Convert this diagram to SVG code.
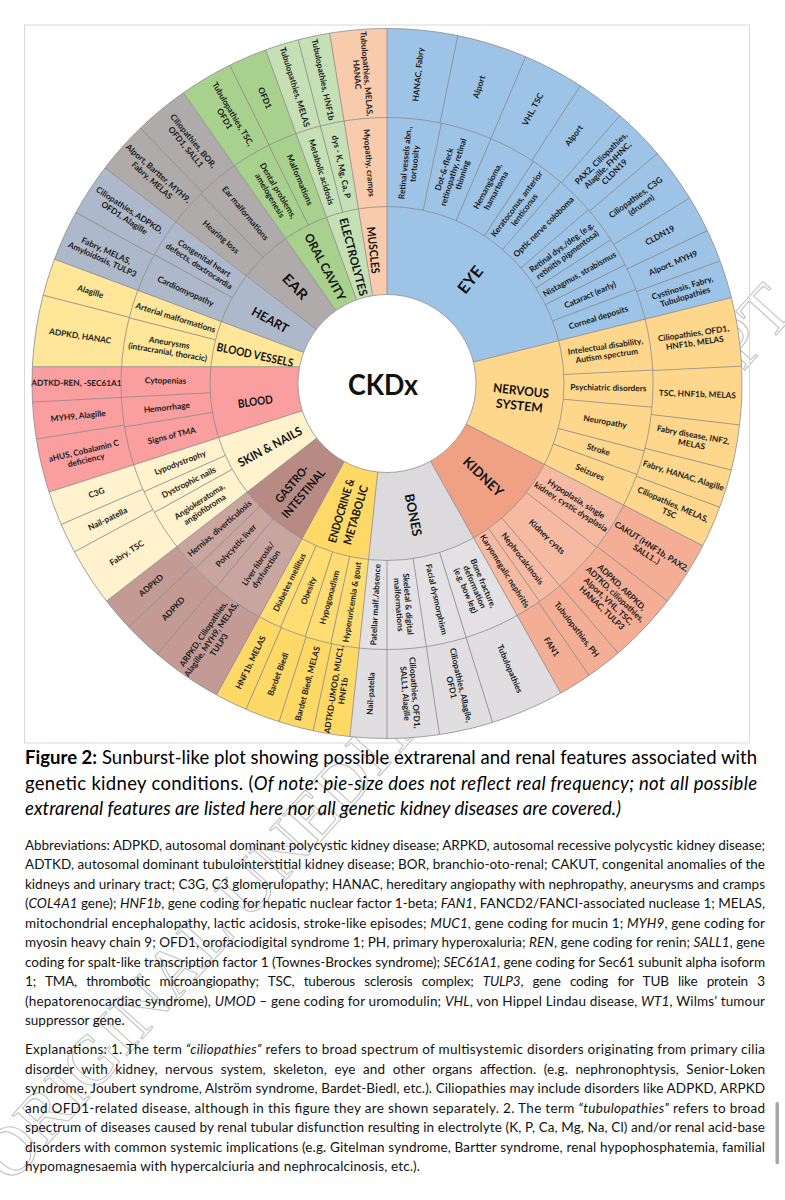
<svg xmlns="http://www.w3.org/2000/svg" width="785" height="1200" viewBox="0 0 785 1200">
<defs>
<style>
.s1{fill:none;stroke-width:88}
.s2{fill:none;stroke-width:89}
.sa{fill:none;stroke-width:266}
.t{font-family:Lato,'Liberation Sans',sans-serif;font-weight:700;font-size:8.3px;fill:#1a1a1a;text-anchor:middle}
.c{font-family:Lato,'Liberation Sans',sans-serif;font-weight:700;fill:#111;text-anchor:middle}
.p{font-family:Lato,'Liberation Sans',sans-serif;font-size:13.5px;fill:#111}
.cap{font-family:Lato,'Liberation Sans',sans-serif;font-size:18.5px;fill:#000}
.i{font-style:italic}
.b{font-weight:700}
.rg{fill:none;stroke:#8c8c8c;stroke-width:0.8}
</style>
<line id="m" stroke="#8c8c8c" stroke-width="0.8" y1="-177" y2="-266"/>
<line id="o" stroke="#8c8c8c" stroke-width="0.8" y1="-266" y2="-355"/>
<line id="k" stroke="#8c8c8c" stroke-width="0.8" y1="-89" y2="-355"/>
</defs>
<rect width="785" height="1200" fill="#fff"/>
<g id="watermark">
<text transform="translate(11 1185) rotate(-48)" font-family="'Liberation Serif',serif" font-size="70" fill="none" stroke="#c2c2c2" stroke-width="1.1">ORIGINAL UNEDITED MANUSCRIPT</text>
</g>
<rect id="frame" x="24.5" y="25" width="725" height="718" fill="none" stroke="#d9d9d9" stroke-width="1"/>
<g id="sunburst" transform="translate(387 383.5)">
<g id="eye">
<circle r="222" class="sa" stroke="#9DC3E6" pathLength="360" stroke-dasharray="76 360" transform="rotate(-90)"/>
<use href="#m" transform="rotate(11.8)"/><use href="#m" transform="rotate(23)"/><use href="#m" transform="rotate(33.4)"/><use href="#m" transform="rotate(40.8)"/><use href="#m" transform="rotate(49.2)"/><use href="#m" transform="rotate(57.3)"/><use href="#m" transform="rotate(63.5)"/><use href="#m" transform="rotate(69.3)"/>
<use href="#o" transform="rotate(11.5)"/><use href="#o" transform="rotate(23)"/><use href="#o" transform="rotate(33)"/><use href="#o" transform="rotate(41)"/><use href="#o" transform="rotate(49.6)"/><use href="#o" transform="rotate(58.5)"/><use href="#o" transform="rotate(64.5)"/><use href="#o" transform="rotate(69.8)"/>
<text class="c" font-size="16" y="5.6" textLength="30" lengthAdjust="spacingAndGlyphs" transform="rotate(38.7) translate(0,-133) rotate(-90)">EYE</text>
<text class="t" transform="rotate(5.9) translate(0,-221.5) rotate(-90)"><tspan x="0" dy="-1.85">Retinal vessels abn.,</tspan><tspan x="0" dy="9.5">tortuosity</tspan></text>
<text class="t" transform="rotate(17.4) translate(0,-221.5) rotate(-90)"><tspan x="0" dy="-6.6">Dot-&amp;-fleck</tspan><tspan x="0" dy="9.5">retinopathy, retinal</tspan><tspan x="0" dy="9.5">thinning</tspan></text>
<text class="t" transform="rotate(28.2) translate(0,-221.5) rotate(-90)"><tspan x="0" dy="-1.85">Hemangioma,</tspan><tspan x="0" dy="9.5">hamartoma</tspan></text>
<text class="t" transform="rotate(37.1) translate(0,-221.5) rotate(-90)"><tspan x="0" dy="-1.85">Keratoconus, anterior</tspan><tspan x="0" dy="9.5">lenticonus</tspan></text>
<text class="t" y="2.9" transform="rotate(45) translate(0,-221.5) rotate(-90)">Optic nerve coloboma</text>
<text class="t" transform="rotate(53.25) translate(0,-221.5) rotate(-90)"><tspan x="0" dy="-1.85">Retinal dys./deg. (e.g.</tspan><tspan x="0" dy="9.5">retinitis pigmentosa)</tspan></text>
<text class="t" y="2.9" transform="rotate(60.4) translate(0,-221.5) rotate(-90)">Nistagmus, strabismus</text>
<text class="t" y="2.9" transform="rotate(66.4) translate(0,-221.5) rotate(-90)">Cataract (early)</text>
<text class="t" y="2.9" transform="rotate(72.65) translate(0,-221.5) rotate(-90)">Corneal deposits</text>
<text class="t" y="2.9" transform="rotate(5.75) translate(0,-310.5) rotate(-90)">HANAC, Fabry</text>
<text class="t" y="2.9" transform="rotate(17.25) translate(0,-310.5) rotate(-90)">Alport</text>
<text class="t" y="2.9" transform="rotate(28) translate(0,-310.5) rotate(-90)">VHL, TSC</text>
<text class="t" y="2.9" transform="rotate(37) translate(0,-310.5) rotate(-90)">Alport</text>
<text class="t" transform="rotate(45.3) translate(0,-310.5) rotate(-90)"><tspan x="0" dy="-6.6">PAX2, Ciliopathies,</tspan><tspan x="0" dy="9.5">Alagille, FHHNC,</tspan><tspan x="0" dy="9.5">CLDN19</tspan></text>
<text class="t" transform="rotate(54.05) translate(0,-310.5) rotate(-90)"><tspan x="0" dy="-1.85">Ciliopathies, C3G</tspan><tspan x="0" dy="9.5">(drusen)</tspan></text>
<text class="t" y="2.9" transform="rotate(61.5) translate(0,-310.5) rotate(-90)">CLDN19</text>
<text class="t" y="2.9" transform="rotate(67.15) translate(0,-310.5) rotate(-90)">Alport, MYH9</text>
<text class="t" transform="rotate(72.9) translate(0,-310.5) rotate(-90)"><tspan x="0" dy="-1.85">Cystinosis, Fabry,</tspan><tspan x="0" dy="9.5">Tubulopathies</tspan></text>
</g>
<g id="nervous-system">
<circle r="222" class="sa" stroke="#FFD78C" pathLength="360" stroke-dasharray="41.2 360" transform="rotate(-14)"/>
<use href="#m" transform="rotate(87.1)"/><use href="#m" transform="rotate(95.1)"/><use href="#m" transform="rotate(104.7)"/><use href="#m" transform="rotate(110)"/>
<use href="#o" transform="rotate(87.2)"/><use href="#o" transform="rotate(96.7)"/><use href="#o" transform="rotate(104.1)"/><use href="#o" transform="rotate(110.4)"/>
<text class="c" font-size="12.5" transform="rotate(96.3) translate(0,-134) rotate(-90)"><tspan x="0" dy="-3.1" textLength="56" lengthAdjust="spacingAndGlyphs">NERVOUS</tspan><tspan x="0" dy="15" textLength="47" lengthAdjust="spacingAndGlyphs">SYSTEM</tspan></text>
<text class="t" transform="rotate(81.55) translate(0,-221.5) rotate(-90)"><tspan x="0" dy="-1.85">Intelectual disability,</tspan><tspan x="0" dy="9.5">Autism spectrum</tspan></text>
<text class="t" y="2.9" transform="rotate(91.1) translate(0,-221.5) rotate(-90)">Psychiatric disorders</text>
<text class="t" y="2.9" transform="rotate(99.9) translate(0,-221.5) rotate(-90)">Neuropathy</text>
<text class="t" y="2.9" transform="rotate(107.35) translate(0,-221.5) rotate(-90)">Stroke</text>
<text class="t" y="2.9" transform="rotate(113.6) translate(0,-221.5) rotate(-90)">Seizures</text>
<text class="t" transform="rotate(81.6) translate(0,-310.5) rotate(-90)"><tspan x="0" dy="-1.85">Ciliopathies, OFD1,</tspan><tspan x="0" dy="9.5">HNF1b, MELAS</tspan></text>
<text class="t" y="2.9" transform="rotate(91.95) translate(0,-310.5) rotate(-90)">TSC, HNF1b, MELAS</text>
<text class="t" transform="rotate(100.4) translate(0,-310.5) rotate(-90)"><tspan x="0" dy="-1.85">Fabry disease, INF2,</tspan><tspan x="0" dy="9.5">MELAS</tspan></text>
<text class="t" y="2.9" transform="rotate(107.25) translate(0,-310.5) rotate(-90)">Fabry, HANAC, Alagille</text>
<text class="t" transform="rotate(113.8) translate(0,-310.5) rotate(-90)"><tspan x="0" dy="-1.85">Ciliopathies, MELAS,</tspan><tspan x="0" dy="9.5">TSC</tspan></text>
</g>
<g id="kidney">
<circle r="133" class="s1" stroke="#F0A184" pathLength="360" stroke-dasharray="33.5 360" transform="rotate(27.2)"/>
<circle r="221.5" class="s2" stroke="#F6BAA3" pathLength="360" stroke-dasharray="33.5 360" transform="rotate(27.2)"/>
<circle r="310.5" class="s2" stroke="#F3AE95" pathLength="360" stroke-dasharray="33.5 360" transform="rotate(27.2)"/>
<use href="#m" transform="rotate(128)"/><use href="#m" transform="rotate(139.5)"/><use href="#m" transform="rotate(145)"/>
<use href="#o" transform="rotate(127.8)"/><use href="#o" transform="rotate(139.4)"/><use href="#o" transform="rotate(145.3)"/>
<text class="c" font-size="13.5" y="4.7" textLength="50" lengthAdjust="spacingAndGlyphs" transform="rotate(134.1) translate(0,-134) rotate(-90)">KIDNEY</text>
<text class="t" transform="rotate(122.6) translate(0,-221.5) rotate(-90)"><tspan x="0" dy="-1.85">Hypoplasia, single</tspan><tspan x="0" dy="9.5">kidney, cystic dysplasia</tspan></text>
<text class="t" y="2.9" transform="rotate(133.75) translate(0,-221.5) rotate(-90)">Kidney cysts</text>
<text class="t" y="2.9" transform="rotate(142.25) translate(0,-221.5) rotate(-90)">Nephrocalcinosis</text>
<text class="t" y="2.9" transform="rotate(147.85) translate(0,-221.5) rotate(-90)">Karyomegalic nephritis</text>
<text class="t" transform="rotate(122.5) translate(0,-310.5) rotate(-90)"><tspan x="0" dy="-1.85">CAKUT (HNF1b, PAX2,</tspan><tspan x="0" dy="9.5">SALL1..)</tspan></text>
<text class="t" transform="rotate(133.6) translate(0,-310.5) rotate(-90)"><tspan x="0" dy="-11.35">ADPKD, ARPKD,</tspan><tspan x="0" dy="9.5">ADTKD, ciliopathies,</tspan><tspan x="0" dy="9.5">Alport, VHL, TSC,</tspan><tspan x="0" dy="9.5">HANAC, TULP3</tspan></text>
<text class="t" y="2.9" transform="rotate(142.35) translate(0,-310.5) rotate(-90)">Tubulopathies, PH</text>
<text class="t" y="2.9" transform="rotate(148) translate(0,-310.5) rotate(-90)">FAN1</text>
</g>
<g id="bones">
<circle r="133" class="s1" stroke="#DCDADC" pathLength="360" stroke-dasharray="35.3 360" transform="rotate(60.7)"/>
<circle r="221.5" class="s2" stroke="#E3E1E3" pathLength="360" stroke-dasharray="35.3 360" transform="rotate(60.7)"/>
<circle r="310.5" class="s2" stroke="#E0DEE0" pathLength="360" stroke-dasharray="35.3 360" transform="rotate(60.7)"/>
<use href="#m" transform="rotate(162.7)"/><use href="#m" transform="rotate(171.5)"/><use href="#m" transform="rotate(180)"/>
<use href="#o" transform="rotate(162.7)"/><use href="#o" transform="rotate(171.5)"/><use href="#o" transform="rotate(180)"/>
<text class="c" font-size="13" y="4.55" textLength="43" lengthAdjust="spacingAndGlyphs" transform="rotate(168.7) translate(0,-134) rotate(-90)">BONES</text>
<text class="t" transform="rotate(156.7) translate(0,-221.5) rotate(-90)"><tspan x="0" dy="-6.6">Bone fracture,</tspan><tspan x="0" dy="9.5">deformation</tspan><tspan x="0" dy="9.5">(e.g. bow leg)</tspan></text>
<text class="t" y="2.9" transform="rotate(167.1) translate(0,-221.5) rotate(-90)">Facial dysmorphism</text>
<text class="t" transform="rotate(175.75) translate(0,-221.5) rotate(-90)"><tspan x="0" dy="-1.85">Skeletal &amp; digital</tspan><tspan x="0" dy="9.5">malformations</tspan></text>
<text class="t" y="2.9" transform="rotate(183) translate(0,-221.5) rotate(90)">Patellar malf./absence</text>
<text class="t" y="2.9" transform="rotate(156.7) translate(0,-310.5) rotate(-90)">Tubulopathies</text>
<text class="t" transform="rotate(167.1) translate(0,-310.5) rotate(-90)"><tspan x="0" dy="-1.85">Ciliopathies, Allagile,</tspan><tspan x="0" dy="9.5">OFD1</tspan></text>
<text class="t" transform="rotate(175.75) translate(0,-310.5) rotate(-90)"><tspan x="0" dy="-1.85">Ciliopathies, OFD1,</tspan><tspan x="0" dy="9.5">SALL1, Alagille</tspan></text>
<text class="t" y="2.9" transform="rotate(183) translate(0,-310.5) rotate(90)">Nail-patella</text>
</g>
<g id="endocrine-metabolic">
<circle r="133" class="s1" stroke="#FFD966" pathLength="360" stroke-dasharray="22.7 360" transform="rotate(96)"/>
<circle r="221.5" class="s2" stroke="#FFDD72" pathLength="360" stroke-dasharray="22.7 360" transform="rotate(96)"/>
<circle r="310.5" class="s2" stroke="#FFD966" pathLength="360" stroke-dasharray="22.7 360" transform="rotate(96)"/>
<use href="#m" transform="rotate(192.2)"/><use href="#m" transform="rotate(197.9)"/><use href="#m" transform="rotate(203.6)"/>
<use href="#o" transform="rotate(192)"/><use href="#o" transform="rotate(197.7)"/><use href="#o" transform="rotate(203.4)"/>
<text class="c" font-size="11.5" transform="rotate(196.6) translate(0,-135) rotate(90)"><tspan x="0" dy="-3.5" textLength="66" lengthAdjust="spacingAndGlyphs">ENDOCRINE &amp;</tspan><tspan x="0" dy="15" textLength="61" lengthAdjust="spacingAndGlyphs">METABOLIC</tspan></text>
<text class="t" y="2.9" transform="rotate(189.1) translate(0,-221.5) rotate(90)">Hyperuricemia &amp; gout</text>
<text class="t" y="2.9" transform="rotate(195.05) translate(0,-221.5) rotate(90)">Hypogonadism</text>
<text class="t" y="2.9" transform="rotate(200.75) translate(0,-221.5) rotate(90)">Obesity</text>
<text class="t" y="2.9" transform="rotate(206.15) translate(0,-221.5) rotate(90)">Diabetes mellitus</text>
<text class="t" transform="rotate(189) translate(0,-310.5) rotate(90)"><tspan x="0" dy="-1.85">ADTKD-UMOD, MUC1,</tspan><tspan x="0" dy="9.5">HNF1b</tspan></text>
<text class="t" y="2.9" transform="rotate(194.85) translate(0,-310.5) rotate(90)">Bardet Biedl, MELAS</text>
<text class="t" y="2.9" transform="rotate(200.55) translate(0,-310.5) rotate(90)">Bardet Biedl</text>
<text class="t" y="2.9" transform="rotate(206.05) translate(0,-310.5) rotate(90)">HNF1b, MELAS</text>
</g>
<g id="gastro-intestinal">
<circle r="133" class="s1" stroke="#B78A84" pathLength="360" stroke-dasharray="23.5 360" transform="rotate(118.7)"/>
<circle r="221.5" class="s2" stroke="#C9A5A0" pathLength="360" stroke-dasharray="23.5 360" transform="rotate(118.7)"/>
<circle r="310.5" class="s2" stroke="#C39A94" pathLength="360" stroke-dasharray="23.5 360" transform="rotate(118.7)"/>
<use href="#m" transform="rotate(220)"/><use href="#m" transform="rotate(226)"/>
<use href="#o" transform="rotate(220.3)"/><use href="#o" transform="rotate(226.7)"/>
<text class="c" font-size="11.5" transform="rotate(220.3) translate(0,-138) rotate(90)"><tspan x="0" dy="-3.5" textLength="45" lengthAdjust="spacingAndGlyphs">GASTRO-</tspan><tspan x="0" dy="15" textLength="60" lengthAdjust="spacingAndGlyphs">INTESTINAL</tspan></text>
<text class="t" transform="rotate(214.35) translate(0,-221.5) rotate(90)"><tspan x="0" dy="-1.85">Liver fibrosis/</tspan><tspan x="0" dy="9.5">dysfunction</tspan></text>
<text class="t" y="2.9" transform="rotate(223) translate(0,-221.5) rotate(90)">Polycystic liver</text>
<text class="t" y="2.9" transform="rotate(229.1) translate(0,-221.5) rotate(90)">Hernias, diverticulosis</text>
<text class="t" transform="rotate(214.5) translate(0,-310.5) rotate(90)"><tspan x="0" dy="-6.6">ARPKD, Ciliopathies,</tspan><tspan x="0" dy="9.5">Alagille, MYH9, MELAS,</tspan><tspan x="0" dy="9.5">TULP3</tspan></text>
<text class="t" y="2.9" transform="rotate(223.5) translate(0,-310.5) rotate(90)">ADPKD</text>
<text class="t" y="2.9" transform="rotate(229.45) translate(0,-310.5) rotate(90)">ADPKD</text>
</g>
<g id="skin-nails">
<circle r="222" class="sa" stroke="#FFF2CC" pathLength="360" stroke-dasharray="20 360" transform="rotate(142.2)"/>
<use href="#m" transform="rotate(241)"/><use href="#m" transform="rotate(246)"/>
<use href="#o" transform="rotate(241.7)"/><use href="#o" transform="rotate(246.6)"/>
<text class="c" font-size="12" y="4.2" textLength="71" lengthAdjust="spacingAndGlyphs" transform="rotate(241.6) translate(0,-133) rotate(90)">SKIN &amp; NAILS</text>
<text class="t" transform="rotate(236.6) translate(0,-221.5) rotate(90)"><tspan x="0" dy="-1.85">Angiokeratoma,</tspan><tspan x="0" dy="9.5">angiofibroma</tspan></text>
<text class="t" y="2.9" transform="rotate(243.5) translate(0,-221.5) rotate(90)">Dystrophic nails</text>
<text class="t" y="2.9" transform="rotate(249.1) translate(0,-221.5) rotate(90)">Lypodystrophy</text>
<text class="t" y="2.9" transform="rotate(236.95) translate(0,-310.5) rotate(90)">Fabry, TSC</text>
<text class="t" y="2.9" transform="rotate(244.15) translate(0,-310.5) rotate(90)">Nail-patella</text>
<text class="t" y="2.9" transform="rotate(249.4) translate(0,-310.5) rotate(90)">C3G</text>
</g>
<g id="blood">
<path d="M-84.7 27.2L-338 108.5A355 355 0 0 1-354.6-16.8L-87.4-16.8A89 89 0 0 0-84.7 27.2Z" fill="#FA9E9F"/>
<use href="#m" transform="rotate(260.6)"/><use href="#m" transform="rotate(267)"/>
<use href="#o" transform="rotate(261)"/><use href="#o" transform="rotate(267)"/>
<text class="c" font-size="11.5" y="4" textLength="35" lengthAdjust="spacingAndGlyphs" transform="rotate(262.2) translate(0,-133) rotate(90)">BLOOD</text>
<text class="t" y="2.9" transform="rotate(256.4) translate(0,-221.5) rotate(90)">Signs of TMA</text>
<text class="t" y="2.9" transform="rotate(263.8) translate(0,-221.5) rotate(90)">Hemorrhage</text>
<text class="t" y="2.9" transform="rotate(270.75) translate(0,-221.5) rotate(90)">Cytopenias</text>
<text class="t" transform="rotate(256.6) translate(0,-310.5) rotate(90)"><tspan x="0" dy="-1.85">aHUS, Cobalamin C</tspan><tspan x="0" dy="9.5">deficiency</tspan></text>
<text class="t" y="2.9" transform="rotate(264) translate(0,-310.5) rotate(90)">MYH9, Alagille</text>
<text class="t" y="2.9" transform="rotate(270.1) translate(0,-310.5) rotate(90)">ADTKD-REN, -SEC61A1</text>
</g>
<g id="blood-vessels">
<path d="M-87.4-16.8L-354.6-16.8A355 355 0 0 1-332.5-124.3L-83.4-31.2A89 89 0 0 0-87.4-16.8Z" fill="#FFE699"/>
<use href="#m" transform="rotate(284.3)"/>
<use href="#o" transform="rotate(284.4)"/>
<text class="c" font-size="11.5" y="4" textLength="78" lengthAdjust="spacingAndGlyphs" transform="rotate(282.2) translate(0,-135) rotate(90)">BLOOD VESSELS</text>
<text class="t" transform="rotate(279.4) translate(0,-221.5) rotate(90)"><tspan x="0" dy="-1.85">Aneurysms</tspan><tspan x="0" dy="9.5">(intracranial,  thoracic)</tspan></text>
<text class="t" y="2.9" transform="rotate(287.3) translate(0,-221.5) rotate(90)">Arterial malformations</text>
<text class="t" y="2.9" transform="rotate(278.8) translate(0,-310.5) rotate(90)">ADPKD, HANAC</text>
<text class="t" y="2.9" transform="rotate(287.25) translate(0,-310.5) rotate(90)">Alagille</text>
</g>
<g id="heart">
<circle r="222" class="sa" stroke="#ADB9CA" pathLength="360" stroke-dasharray="16.9 360" transform="rotate(200.5)"/>
<use href="#m" transform="rotate(299)"/>
<use href="#o" transform="rotate(298.8)"/>
<text class="c" font-size="12.5" y="4.4" textLength="40" lengthAdjust="spacingAndGlyphs" transform="rotate(298.5) translate(0,-133) rotate(90)">HEART</text>
<text class="t" y="2.9" transform="rotate(294.65) translate(0,-221.5) rotate(90)">Cardiomyopathy</text>
<text class="t" transform="rotate(303.2) translate(0,-221.5) rotate(90)"><tspan x="0" dy="-1.85">Congenital heart</tspan><tspan x="0" dy="9.5">defects, dextrocardia</tspan></text>
<text class="t" transform="rotate(294.45) translate(0,-310.5) rotate(90)"><tspan x="0" dy="-1.85">Fabry, MELAS,</tspan><tspan x="0" dy="9.5">Amyloidosis, TULP3</tspan></text>
<text class="t" transform="rotate(303.1) translate(0,-310.5) rotate(90)"><tspan x="0" dy="-1.85">Ciliopathies, ADPKD,</tspan><tspan x="0" dy="9.5">OFD1, Alagille</tspan></text>
</g>
<g id="ear">
<circle r="222" class="sa" stroke="#AFABAB" pathLength="360" stroke-dasharray="17.6 360" transform="rotate(217.4)"/>
<use href="#m" transform="rotate(315.5)"/>
<use href="#o" transform="rotate(316)"/>
<text class="c" font-size="14" y="4.9" textLength="30" lengthAdjust="spacingAndGlyphs" transform="rotate(316.5) translate(0,-133.5) rotate(90)">EAR</text>
<text class="t" y="2.9" transform="rotate(311.45) translate(0,-221.5) rotate(90)">Hearing loss</text>
<text class="t" y="2.9" transform="rotate(320.25) translate(0,-221.5) rotate(90)">Ear malformations</text>
<text class="t" transform="rotate(311.7) translate(0,-310.5) rotate(90)"><tspan x="0" dy="-1.85">Alport, Bartter, MYH9,</tspan><tspan x="0" dy="9.5">Fabry, MELAS</tspan></text>
<text class="t" transform="rotate(320.5) translate(0,-310.5) rotate(90)"><tspan x="0" dy="-1.85">Ciliopathies, BOR,</tspan><tspan x="0" dy="9.5">OFD1, SALL1</tspan></text>
</g>
<g id="oral-cavity">
<circle r="222" class="sa" stroke="#A9D18E" pathLength="360" stroke-dasharray="15 360" transform="rotate(235)"/>
<use href="#m" transform="rotate(333.6)"/>
<use href="#o" transform="rotate(333.7)"/>
<text class="c" font-size="12" y="4.2" textLength="74" lengthAdjust="spacingAndGlyphs" transform="rotate(332) translate(0,-132) rotate(90)">ORAL CAVITY</text>
<text class="t" transform="rotate(329.3) translate(0,-221.5) rotate(90)"><tspan x="0" dy="-1.85">Dental problems,</tspan><tspan x="0" dy="9.5">amelogenesis</tspan></text>
<text class="t" y="2.9" transform="rotate(336.8) translate(0,-221.5) rotate(90)">Malformations</text>
<text class="t" transform="rotate(329.35) translate(0,-310.5) rotate(90)"><tspan x="0" dy="-1.85">Tubulopathies, TSC,</tspan><tspan x="0" dy="9.5">OFD1</tspan></text>
<text class="t" y="2.9" transform="rotate(336.85) translate(0,-310.5) rotate(90)">OFD1</text>
</g>
<g id="electrolytes">
<circle r="222" class="sa" stroke="#C5E0B4" pathLength="360" stroke-dasharray="10.7 360" transform="rotate(250)"/>
<use href="#m" transform="rotate(345.5)"/>
<use href="#o" transform="rotate(345.5)"/>
<text class="c" font-size="11.5" y="4" textLength="80" lengthAdjust="spacingAndGlyphs" transform="rotate(345.1) translate(0,-131) rotate(90)">ELECTROLYTES</text>
<text class="t" y="2.9" transform="rotate(342.75) translate(0,-221.5) rotate(90)">Metabolic acidosis</text>
<text class="t" y="2.9" transform="rotate(348.1) translate(0,-221.5) rotate(90)">dys - K, Mg, Ca, P</text>
<text class="t" y="2.9" transform="rotate(342.75) translate(0,-310.5) rotate(90)">Tubulopathies, MELAS</text>
<text class="t" y="2.9" transform="rotate(348.1) translate(0,-310.5) rotate(90)">Tubulopathies, HNF1b</text>
</g>
<g id="muscles">
<circle r="222" class="sa" stroke="#F8CBAD" pathLength="360" stroke-dasharray="9.3 360" transform="rotate(260.7)"/>
<text class="c" font-size="11.5" y="4" textLength="47" lengthAdjust="spacingAndGlyphs" transform="rotate(354.1) translate(0,-134) rotate(90)">MUSCLES</text>
<text class="t" y="2.9" transform="rotate(355.35) translate(0,-221.5) rotate(90)">Myopathy, cramps</text>
<text class="t" transform="rotate(355.35) translate(0,-310.5) rotate(90)"><tspan x="0" dy="-1.85">Tubulopathies, MELAS,</tspan><tspan x="0" dy="9.5">HANAC</tspan></text>
</g>
<g id="grid">
<circle r="177" class="rg"/>
<circle r="266" class="rg"/>
<circle r="355" class="rg"/>
<use href="#k" transform="rotate(0)"/><use href="#k" transform="rotate(76)"/><use href="#k" transform="rotate(117.2)"/><use href="#k" transform="rotate(150.7)"/><use href="#k" transform="rotate(186)"/><use href="#k" transform="rotate(208.7)"/><use href="#k" transform="rotate(232.2)"/><use href="#k" transform="rotate(252.2)"/><use href="#k" transform="rotate(290.5)"/><use href="#k" transform="rotate(307.4)"/><use href="#k" transform="rotate(325)"/><use href="#k" transform="rotate(340)"/><use href="#k" transform="rotate(350.7)"/>
<line x1="-87.4" y1="-16.8" x2="-354.6" y2="-16.8" stroke="#8c8c8c" stroke-width="0.8"/>
</g>
<g id="center">
<circle r="89" fill="#fff" stroke="#8c8c8c" stroke-width="0.8"/>
<text class="c" font-size="28" x="-4" y="11.5" textLength="70" lengthAdjust="spacingAndGlyphs">CKDx</text>
</g>
</g>
<g id="caption">
<text class="cap" x="25" y="764" textLength="732" lengthAdjust="spacing"><tspan class="b">Figure 2:</tspan> Sunburst-like plot showing possible extrarenal and renal features associated with</text>
<text class="cap" x="25" y="789.5" textLength="732" lengthAdjust="spacing">genetic kidney conditions. (<tspan class="i">Of note: pie-size does not reflect real frequency; not all possible</tspan></text>
<text class="cap i" x="25" y="814.5" textLength="596" lengthAdjust="spacing">extrarenal features are listed here nor all genetic kidney diseases are covered.)</text>
</g>
<g id="abbreviations">
<text class="p" x="25" y="849.5" textLength="740" lengthAdjust="spacing">Abbreviations: ADPKD, autosomal dominant polycystic kidney disease; ARPKD, autosomal recessive polycystic kidney disease;</text>
<text class="p" x="25" y="869" textLength="740" lengthAdjust="spacing">ADTKD, autosomal dominant tubulointerstitial kidney disease; BOR, branchio-oto-renal; CAKUT, congenital anomalies of the</text>
<text class="p" x="25" y="888.5" textLength="740" lengthAdjust="spacing">kidneys and urinary tract; C3G, C3 glomerulopathy; HANAC, hereditary angiopathy with nephropathy, aneurysms and cramps</text>
<text class="p" x="25" y="908" textLength="740" lengthAdjust="spacing">(<tspan class="i">COL4A1</tspan> gene); <tspan class="i">HNF1b</tspan>, gene coding for hepatic nuclear factor 1-beta; <tspan class="i">FAN1</tspan>, FANCD2/FANCI-associated nuclease 1; MELAS,</text>
<text class="p" x="25" y="927.5" textLength="740" lengthAdjust="spacing">mitochondrial encephalopathy, lactic acidosis, stroke-like episodes; <tspan class="i">MUC1</tspan>, gene coding for mucin 1; <tspan class="i">MYH9</tspan>, gene coding for</text>
<text class="p" x="25" y="947" textLength="740" lengthAdjust="spacing">myosin heavy chain 9; OFD1, orofaciodigital syndrome 1; PH, primary hyperoxaluria; <tspan class="i">REN</tspan>, gene coding for renin; <tspan class="i">SALL1</tspan>, gene</text>
<text class="p" x="25" y="966.5" textLength="740" lengthAdjust="spacing">coding for spalt-like transcription factor 1 (Townes-Brockes syndrome); <tspan class="i">SEC61A1</tspan>, gene coding for Sec61 subunit alpha isoform</text>
<text class="p" x="25" y="986" textLength="740" lengthAdjust="spacing" word-spacing="6">1; TMA, thrombotic microangiopathy; TSC, tuberous sclerosis complex; <tspan class="i">TULP3</tspan>, gene coding for TUB like protein 3</text>
<text class="p" x="25" y="1005.5" textLength="740" lengthAdjust="spacing">(hepatorenocardiac syndrome), <tspan class="i">UMOD</tspan> – gene coding for uromodulin; <tspan class="i">VHL</tspan>, von Hippel Lindau disease, <tspan class="i">WT1</tspan>, Wilms’ tumour</text>
<text class="p" x="25" y="1025">suppressor gene.</text>
</g>
<g id="explanations">
<text class="p" x="25" y="1054" textLength="740" lengthAdjust="spacing">Explanations: 1. The term <tspan class="i">“ciliopathies”</tspan> refers to broad spectrum of multisystemic disorders originating from primary cilia</text>
<text class="p" x="25" y="1073.5" textLength="740" lengthAdjust="spacing" word-spacing="4">disorder with kidney, nervous system, skeleton, eye and other organs affection. (e.g. nephronophtysis, Senior-Loken</text>
<text class="p" x="25" y="1093" textLength="740" lengthAdjust="spacing">syndrome, Joubert syndrome, Alström syndrome, Bardet-Biedl, etc.). Ciliopathies may include disorders like ADPKD, ARPKD</text>
<text class="p" x="25" y="1112.5" textLength="740" lengthAdjust="spacing">and OFD1-related disease, although in this figure they are shown separately. 2. The term <tspan class="i">“tubulopathies”</tspan> refers to broad</text>
<text class="p" x="25" y="1132" textLength="740" lengthAdjust="spacing">spectrum of diseases caused by renal tubular disfunction resulting in electrolyte (K, P, Ca, Mg, Na, Cl) and/or renal acid-base</text>
<text class="p" x="25" y="1151.5" textLength="740" lengthAdjust="spacing">disorders with common systemic implications (e.g. Gitelman syndrome, Bartter syndrome, renal hypophosphatemia, familial</text>
<text class="p" x="25" y="1171" textLength="395" lengthAdjust="spacing">hypomagnesaemia with hypercalciuria and nephrocalcinosis, etc.).</text>
</g>
<rect id="scrollbar" x="775.5" y="1102" width="3.5" height="62" rx="1.5" fill="#a6a6a6"/>
</svg>
